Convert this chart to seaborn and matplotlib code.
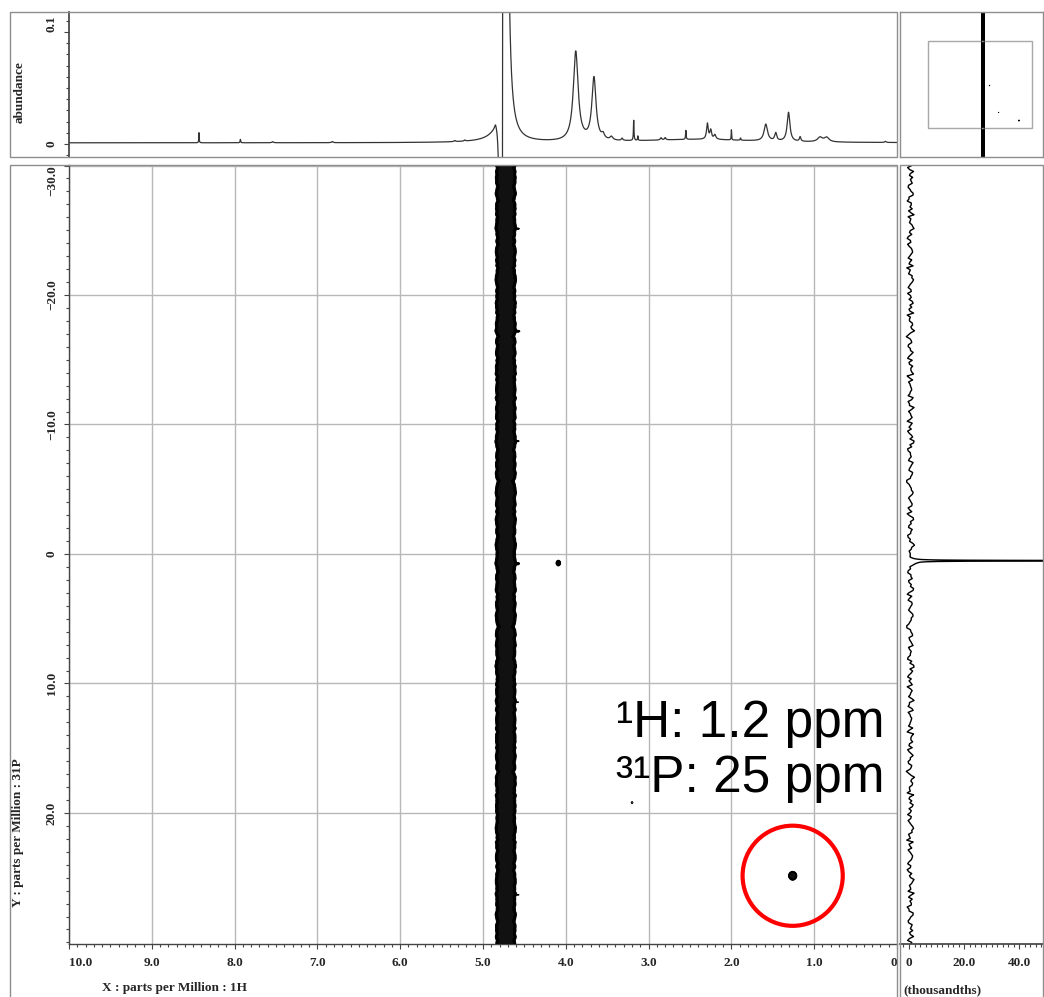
import numpy as np
import pandas as pd
import matplotlib
matplotlib.use("Agg")
import matplotlib.pyplot as plt
import seaborn as sns
from matplotlib.patches import Rectangle
from matplotlib.ticker import MultipleLocator

# ---------------- data ----------------
# 1H spectrum (top trace): peak list
h1_ppm = [8.43, 7.93, 7.54, 6.82, 5.34, 5.22, 4.85, 4.735, 4.78,
          3.88, 3.66, 3.55, 3.45, 3.32, 3.18, 3.13, 2.85, 2.80, 2.55,
          2.29, 2.25, 2.20, 2.00, 1.89, 1.585, 1.465, 1.31, 1.17, 0.93, 0.85,
          0.14, 2.40]
h1_height = [0.009, 0.003, 0.001, 0.001, 0.001, 0.001, 0.004, 2.0, -3.0,
             0.080, 0.056, 0.004, 0.003, 0.002, 0.018, 0.004, 0.002, 0.002, 0.008,
             0.014, 0.008, 0.004, 0.009, 0.002, 0.015, 0.007, 0.026, 0.004, 0.004,
             0.004, 0.001, 0.003]
h1_width = [0.003, 0.004, 0.01, 0.01, 0.01, 0.01, 0.012, 0.015, 0.006,
            0.035, 0.03, 0.02, 0.02, 0.01, 0.004, 0.004, 0.01, 0.01, 0.004,
            0.012, 0.012, 0.015, 0.003, 0.005, 0.025, 0.015, 0.02, 0.01, 0.035,
            0.035, 0.01, 0.8]
h1_baseline = 0.001

# t1-noise of the water ridge along the 31P axis (relative, read from the projection)
t1_noise = [
    1, 3, -2, 0, 5, 2, -4, -1, 6, -3, -7, 2, 4, 1, -5, 0, 3, 8, -2, -4,
    0, -6, 2, 5, -1, 3, -3, -8, -2, 4, 7, 1, -5, 2, 0, -3, 6, 3, -1, -7,
    -2, 4, 1, 9, -4, -1, 3, -5, 0, 2, -6, -3, 5, 1, 7, -2, -4, 0, 3, -1,
    6, -5, -2, 3, 0, 4, -7, 1, 2, -3, 5, 8, -1, -6, 0, 2, -4, 3, -2, 5,
    1, -8, -3, 2, 6, 0, -1, 4, -5, 3, -2, 7, 2, -4, 1, -6, 0, 5, 3, -3,
    -1, 2, 9, -2, -5, 1, 4, -3, 0, 6, -7, -2, 3, 1, -4, 5, 2, -1, -8, 0,
    4, -3, 1, 6, -2, 0, -5, 3, 7, -1, 2, -6, -3, 4, 0, 1, -4, 8, -2, 3,
    -5, 0, 2, -1, 5, -7, 3, 1, -2, 4, -3, 6, 0, -4, 2, -9, 1, 3, 5, -2,
    0, 7, -3, -1, 4, 2, -6, 1, -2, 5, 3, -4, 0, 6, -1, -5, 2, 4, -3, 1,
    -7, 3, 0, 5, -2, 1, 8, -4, -1, 2, -3, 6, 1, -5, 4, 0, -2, 7, -6, 2]

# water ridge in the 2D map
band_ppm = [4.77, 4.68]
band_sigma = 0.035
fringe_ppm = 4.575

# 1H-31P cross peaks (1H ppm, 31P ppm, intensity, widths)
xpk_h = [1.26, 4.09, 3.20]
xpk_p = [24.85, 0.70, 19.2]
xpk_amp = [4.0, 0.5, 0.13]
xpk_wh = [0.018, 0.015, 0.015]
xpk_wp = [0.12, 0.12, 0.12]

# 31P projection (thousandths)
proj_offset = 0.5
proj_noise_scale = 1.5
proj_peak_ppm = 0.52
proj_peak_height = 2000.0
proj_peak_width = 0.004

annot_lines = ["\u00b9H: 1.2 ppm", "\u00b3\u00b9P: 25 ppm"]
x_ticks = [10, 9, 8, 7, 6, 5, 4, 3, 2, 1, 0]
x_ticklabels = ["10.0", "9.0", "8.0", "7.0", "6.0", "5.0", "4.0", "3.0", "2.0", "1.0", "0"]
y_ticks = [-30, -20, -10, 0, 10, 20]
y_ticklabels = ["\u221230.0", "\u221220.0", "\u221210.0", "0", "10.0", "20.0"]
top_ticks = [0, 0.1]
top_ticklabels = ["0", "0.1"]
proj_ticks = [0, 20, 40]
proj_ticklabels = ["0", "20.0", "40.0"]

# ---------------- derived curves ----------------
h1_x = np.linspace(10.6, -0.6, 22401)
h1_y = np.full_like(h1_x, h1_baseline)
for c, h, w in zip(h1_ppm, h1_height, h1_width):
    h1_y += h * w**2 / ((h1_x - c) ** 2 + w**2)
spec = pd.DataFrame({"ppm": h1_x, "abundance": h1_y})

nv = np.array(t1_noise) / 9.0
# finer noise track: the read values interleaved with their mirror order
nfine = np.column_stack([nv, nv[::-1]]).ravel()
nyf = np.linspace(-30.3, 30.3, nfine.size)
ny = np.linspace(-30.3, 30.3, nv.size)

py = np.linspace(-31, 31, 12401)
proj = (proj_offset + proj_noise_scale * np.interp(py, nyf, nfine)
        + proj_peak_height * proj_peak_width**2 / ((py - proj_peak_ppm) ** 2 + proj_peak_width**2))
projdf = pd.DataFrame({"p31": py, "val": proj})

x2 = np.linspace(-1.2, 12.9, 1411)
y2 = np.linspace(-52, 52, 1301)
m1 = np.interp(y2, nyf, nfine)[:, None]
m2 = np.interp(y2, nyf, nfine[::-1])[:, None]
m3 = np.interp(y2, ny, nv)[:, None]
X = x2[None, :]
Z = ((1 + 0.5 * m1) * np.exp(-0.5 * ((X - band_ppm[0] - 0.006 * m3) / band_sigma) ** 2)
     + (1 + 0.5 * m2) * np.exp(-0.5 * ((X - band_ppm[1] + 0.006 * m3) / band_sigma) ** 2))
Z = Z + 1.5 * np.clip(m3 - 0.75, 0, None) * np.exp(-0.5 * ((X - fringe_ppm) / 0.012) ** 2)
Yg = y2[:, None]
for a, b, amp, wh, wp in zip(xpk_h, xpk_p, xpk_amp, xpk_wh, xpk_wp):
    Z = Z + amp * np.exp(-0.5 * ((X - a) / wh) ** 2 - 0.5 * ((Yg - b) / wp) ** 2)
levels = np.geomspace(0.1, 0.4, 6)
core_level = 0.32

# ---------------- figure ----------------
sns.set_theme(style="ticks")
plt.rcParams["font.family"] = ["Liberation Serif", "DejaVu Serif"]

W, H = 1044, 997
fig = plt.figure(figsize=(W / 100, H / 100), dpi=100)
fig.patch.set_facecolor("white")


def box(x0, y0, x1, y1):
    return [x0 / W, 1 - y1 / H, (x1 - x0) / W, (y1 - y0) / H]


FRAME = "#8e8e8e"
SPINE = "#444444"
TICKFONT = dict(fontfamily="Liberation Serif", fontweight="bold", fontsize=9.5)

# outer frames
for (x0, y0, x1, y1) in [(10, 12, 897, 157), (10, 165, 897, 1005), (900, 165, 1043, 1005)]:
    fig.add_artist(Rectangle((x0 / W, 1 - y1 / H), (x1 - x0) / W, (y1 - y0) / H,
                             transform=fig.transFigure, fill=False, ec=FRAME, lw=1.0))

ax = fig.add_axes(box(69, 165, 897, 944))
ax_top = fig.add_axes(box(69, 12, 897, 157))
ax_r = fig.add_axes(box(900, 165, 1043, 944))
ax_t = fig.add_axes(box(900, 12, 1043, 157))

# ---- main 2D map ----
ax.set_facecolor("none")
ax.contourf(x2, y2, Z, levels=[core_level, 1e3], colors=["#111111"], zorder=3)
ax.contour(x2, y2, Z, levels=levels, colors="black", linewidths=0.7, zorder=3)
sns.scatterplot(x=[xpk_h[0]], y=[xpk_p[0]], ax=ax, s=5200, marker="o", zorder=4, legend=False)
circ = ax.collections[-1]
circ.set_facecolor("none")
circ.set_edgecolor("#ff0000")
circ.set_linewidth(3.0)
ax.set_xlim(10.0, 0.0)
ax.set_ylim(30.12, -30.04)
ax.set_xticks(x_ticks, labels=x_ticklabels, **TICKFONT)
ax.set_yticks(y_ticks, labels=y_ticklabels, rotation=90, va="center", **TICKFONT)
ax.get_xticklabels()[0].set_ha("left")
ax.get_xticklabels()[-1].set_ha("right")
ax.get_yticklabels()[0].set_va("top")
ax.xaxis.set_minor_locator(MultipleLocator(0.1))
ax.yaxis.set_minor_locator(MultipleLocator(1))
ax.tick_params(axis="both", which="both", direction="out", color=SPINE, width=0.8)
ax.tick_params(axis="both", which="major", length=3.5)
ax.tick_params(axis="both", which="minor", length=2.2)
ax.tick_params(axis="x", pad=6)
ax.tick_params(axis="y", pad=4.5)
ax.grid(True, which="major", color="#b8b8b8", lw=1.0)
ax.set_axisbelow(True)
for s in ["top", "right"]:
    ax.spines[s].set_visible(False)
for s in ["left", "bottom"]:
    ax.spines[s].set_color(SPINE)
    ax.spines[s].set_linewidth(1.0)
ax.set_xlabel("")
ax.set_ylabel("")
for txt, yb in zip(annot_lines, [14.13, 18.38]):
    ax.text(0.157, yb, txt, ha="right", va="baseline", fontsize=37,
            fontfamily="Liberation Sans", color="black", zorder=5)

# ---- top 1D spectrum ----
sns.lineplot(data=spec, x="ppm", y="abundance", ax=ax_top, sort=False,
             estimator=None, errorbar=None, color="#333333", lw=0.9)
ax_top.set_facecolor("none")
ax_top.set_xlim(10.0, 0.0)
ax_top.set_ylim(-0.01161, 0.11786)
ax_top.set_xticks([])
ax_top.set_yticks(top_ticks, labels=top_ticklabels, rotation=90, va="center", **TICKFONT)
ax_top.get_yticklabels()[-1].set_va("bottom")
ax_top.yaxis.set_minor_locator(MultipleLocator(0.01))
ax_top.tick_params(axis="y", which="both", direction="out", color=SPINE, width=0.8, pad=4.5)
ax_top.tick_params(axis="y", which="major", length=3.5)
ax_top.tick_params(axis="y", which="minor", length=2.2)
for s in ["top", "right", "bottom"]:
    ax_top.spines[s].set_visible(False)
ax_top.spines["left"].set_color(SPINE)
ax_top.set_xlabel("")
ax_top.set_ylabel("")

# ---- right 31P projection ----
sns.lineplot(data=projdf, x="val", y="p31", ax=ax_r, orient="y", sort=False,
             estimator=None, errorbar=None, color="black", lw=1.0)
ax_r.set_facecolor("none")
ax_r.set_xlim(-3.27, 48.7)
ax_r.set_ylim(30.12, -30.04)
ax_r.set_yticks([])
ax_r.set_xticks(proj_ticks, labels=proj_ticklabels, **TICKFONT)
ax_r.xaxis.set_minor_locator(MultipleLocator(2))
ax_r.tick_params(axis="x", which="both", direction="out", color=SPINE, width=0.8, pad=6)
ax_r.tick_params(axis="x", which="major", length=3.5)
ax_r.tick_params(axis="x", which="minor", length=2.2)
for s in ["top", "right", "left"]:
    ax_r.spines[s].set_visible(False)
ax_r.spines["bottom"].set_color(SPINE)
ax_r.set_xlabel("")
ax_r.set_ylabel("")

# ---- thumbnail overview ----
ax_t.contourf(x2, y2, Z, levels=[levels[0], 1e3], colors=["black"])
ax_t.contour(x2, y2, Z, levels=levels[:1], colors="black", linewidths=0.6)
ax_t.add_patch(Rectangle((10, -30), -10, 60, fill=False, ec="#a8a8a8", lw=1.0))
ax_t.set_xlim(12.7, -1.06)
ax_t.set_ylim(50, -50)
ax_t.set_xticks([])
ax_t.set_yticks([])
for s in ax_t.spines.values():
    s.set_color(FRAME)
    s.set_linewidth(1.0)

# ---- axis titles ----
fig.text(20 / W, 1 - 92 / H, "abundance", rotation=90, ha="center", va="center", **TICKFONT)
fig.text(18 / W, 1 - 833 / H, "Y : parts per Million : 31P", rotation=90, ha="center", va="center", **TICKFONT)
fig.text(102 / W, 1 - 988 / H, "X : parts per Million : 1H", ha="left", va="center", **TICKFONT)
fig.text(903 / W, 1 - 990 / H, "(thousandths)", ha="left", va="center", **TICKFONT)

fig.savefig("out.png", dpi=100, facecolor="white")
